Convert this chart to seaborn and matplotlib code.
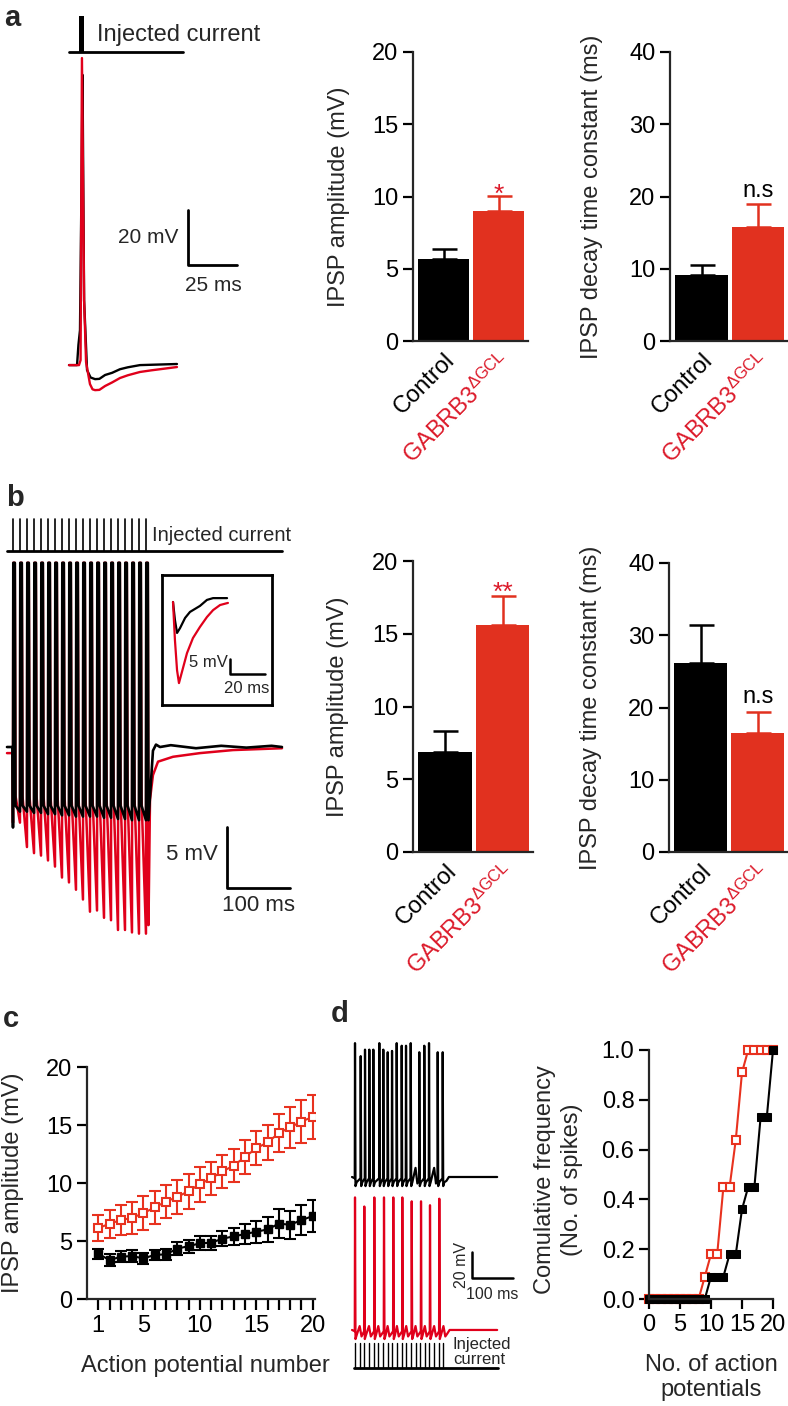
import numpy as np
import pandas as pd
import seaborn as sns
import matplotlib.pyplot as plt

# ---------------- data ----------------
groups = ["Control", "GABRB3"]
group_labels = ["Control", "GABRB3$^{ΔGCL}$"]

a_amp = [5.7, 9.0]
a_amp_sem = [0.7, 1.05]
a_tau = [9.1, 15.8]
a_tau_sem = [1.4, 3.1]
b_amp = [6.9, 15.6]
b_amp_sem = [1.4, 2.0]
b_tau = [26.1, 16.5]
b_tau_sem = [5.3, 2.9]

ap_num = [1, 2, 3, 4, 5, 6, 7, 8, 9, 10, 11, 12, 13, 14, 15, 16, 17, 18, 19, 20]
c_ko = [6.1, 6.5, 6.8, 7.0, 7.4, 7.9, 8.4, 8.8, 9.3, 9.9, 10.4, 11.0, 11.5, 12.25, 13.0, 13.5, 14.3, 14.8, 15.3, 15.7]
c_ko_sem = [1.1, 1.2, 1.3, 1.4, 1.45, 1.45, 1.45, 1.5, 1.5, 1.5, 1.45, 1.45, 1.45, 1.45, 1.45, 1.5, 1.65, 1.75, 1.85, 1.9]
c_ctrl = [3.9, 3.35, 3.65, 3.7, 3.5, 3.8, 3.85, 4.35, 4.55, 4.8, 4.85, 5.2, 5.4, 5.6, 5.8, 6.0, 6.5, 6.4, 6.8, 7.15]
c_ctrl_sem = [0.45, 0.5, 0.45, 0.5, 0.5, 0.45, 0.5, 0.55, 0.55, 0.6, 0.6, 0.65, 0.75, 0.85, 0.95, 1.1, 1.25, 1.2, 1.3, 1.35]

n_ap = [0, 1, 2, 3, 4, 5, 6, 7, 8, 9, 10, 11, 12, 13, 14, 15, 16, 17, 18, 19, 20]
d_ctrl_cum = [0, 0, 0, 0, 0, 0, 0, 0, 0, 0, 0.09, 0.09, 0.09, 0.18, 0.18, 0.36, 0.45, 0.45, 0.73, 0.73, 1.0]
d_ko_cum = [0, 0, 0, 0, 0, 0, 0, 0, 0, 0.09, 0.18, 0.18, 0.45, 0.45, 0.64, 0.91, 1.0, 1.0, 1.0, 1.0, 1.0]

# panel a traces (ms, mV)
a_t_ctrl = [0, 4.1, 4.8, 5.6, 6.4, 6.9, 7.7, 9.2, 11.0, 13.3, 15.5, 18.4, 22.0, 26.0, 30.0, 36.2, 55.1]
a_v_ctrl = [-65, -65, -57.7, -52.3, 2.3, 40.5, -41.4, -66.8, -69.5, -70.1, -70.0, -68.6, -67.8, -66.5, -65.8, -65.0, -64.6]
a_t_ko = [0, 5.1, 5.9, 6.6, 7.7, 8.7, 10.7, 12.0, 13.3, 15.5, 18.4, 22.0, 26.0, 30.0, 36.2, 42.0, 46.4, 55.1]
a_v_ko = [-65, -65, -63.2, 46.6, -41.4, -63.9, -71.9, -73.8, -74.1, -74.0, -72.6, -71.3, -69.7, -68.7, -67.5, -66.9, -66.5, -65.7]

# panel b train (ms, mV from baseline)
b_events = [9.5, 20.6, 31.7, 42.9, 54.0, 65.1, 76.2, 87.3, 98.4, 109.5,
            120.6, 131.7, 142.9, 154.0, 165.1, 176.2, 187.3, 198.4, 209.5, 220.6]
b_trough_ctrl = [-6.6, -5.3, -5.3, -5.4, -5.4, -5.5, -5.5, -5.6, -5.6, -5.7,
                 -5.7, -5.7, -5.7, -5.8, -5.8, -5.9, -5.9, -6.0, -6.0, -6.0]
b_trough_ko = [-6.2, -6.2, -8.2, -8.7, -8.9, -9.3, -9.8, -10.7, -11.1, -11.7,
               -12.5, -13.5, -13.4, -14.0, -14.2, -15.0, -15.0, -15.2, -15.3, -15.3]
b_peak = 15.1
b_tail_t_ctrl = [224.6, 231.7, 236.5, 242.9, 260, 300, 340, 380, 420, 436.5]
b_tail_v_ctrl = [-6.0, -0.3, 0.2, 0.0, 0.15, -0.1, 0.1, -0.05, 0.1, 0.0]
b_tail_t_ko = [224.6, 227.0, 231.7, 239.7, 263.5, 306.3, 358.7, 436.5]
b_tail_v_ko = [-14.6, -4.3, -2.3, -1.2, -0.8, -0.5, -0.25, -0.1]

# inset of panel b
ins_t_ctrl = [0, 1.1, 2.3, 4.0, 6.9, 9.7, 15.4, 19.4, 22.9, 30.9]
ins_v_ctrl = [0, -6.0, -10.3, -8.7, -5.3, -3.3, -1.3, 0.7, 1.3, 1.3]
ins_t_ko = [0, 1.1, 2.3, 3.4, 5.1, 8.0, 11.4, 15.4, 19.4, 22.9, 26.9, 31.4]
ins_v_ko = [0, -12.7, -22.7, -27.0, -23.3, -17.0, -12.0, -8.3, -5.0, -2.7, -1.0, -0.3]

# panel d firing (ms, mV from baseline)
d_stim = [7.3, 18.7, 30.0, 41.4, 52.7, 64.1, 75.4, 86.8, 98.1, 109.5,
          120.8, 132.2, 143.5, 154.9, 166.2, 177.6, 188.9, 200.3, 211.6, 223.0]
d_spk_ctrl = [7.3, 21.2, 31.7, 42.2, 52.0, 66.6, 76.3, 87.1, 97.6, 109.0,
              121.2, 131.7, 143.2, 164.1, 176.3, 187.8, 209.0, 221.2]
d_amp_ctrl = [103, 93, 98, 98, 98, 103, 98, 96, 97, 103, 101, 101, 103, 96, 101, 103, 96, 96]
d_sub_ctrl = [154.9, 200.3]
d_spk_ko = [7.3, 30.0, 54.4, 78.0, 100.7, 122.7, 145.6, 168.3, 190.2, 212.9]
d_amp_ko = [102, 95, 102, 102, 102, 102, 99, 99, 96, 101]
d_sub_ko = [18.7, 41.4, 64.1, 86.8, 109.5, 132.2, 154.9, 177.6, 200.3, 223.0]

# ---------------- style ----------------
BLACK = "#000000"
BAR_RED = "#e1311f"
LINE_RED = "#e8321f"
TRACE_RED = "#e0001b"
TEXT_RED = "#dc1a2a"

sns.set_style("ticks")
plt.rcParams["font.family"] = ["Liberation Sans", "DejaVu Sans"]
plt.rcParams["mathtext.default"] = "regular"
plt.rcParams["axes.linewidth"] = 1.6
FS = 17

W, H = 788, 1406
fig = plt.figure(figsize=(W / 100, H / 100), dpi=100)


def add_ax(l, t, r, b):
    return fig.add_axes([l / W, 1 - b / H, (r - l) / W, (b - t) / H])


def style_axis(ax):
    sns.despine(ax=ax)
    ax.tick_params(axis="both", direction="out", length=7, width=1.6,
                   labelsize=FS, color="black", labelcolor="black")


def bar_panel(ax, vals, sems, ymax, step, ylabel, mark, mark_color, mark_y, lab_x):
    df = pd.DataFrame({"group": groups, "val": vals})
    sns.barplot(data=df, x="group", y="val", hue="group",
                palette=[BLACK, BAR_RED], width=0.93, linewidth=0,
                saturation=1, legend=False, ax=ax)
    for i, (v, s) in enumerate(zip(vals, sems)):
        col = BLACK if i == 0 else BAR_RED
        ax.errorbar(i, v, yerr=[[0], [s]], color=col, capsize=9,
                    elinewidth=1.8, capthick=1.8, zorder=1)
    ax.set_xlim(-0.56, 1.53)
    ax.set_ylim(0, ymax)
    ax.set_yticks(range(0, ymax + 1, step))
    style_axis(ax)
    ax.tick_params(axis="x", length=0, pad=6)
    ax.set_xticks([0, 1])
    ax.set_xticklabels(group_labels, rotation=45, ha="right", va="top",
                       rotation_mode="anchor", fontsize=FS)
    ax.get_xticklabels()[1].set_color(TEXT_RED)
    ax.set_xlabel("")
    ax.set_ylabel(ylabel, fontsize=FS)
    ax.yaxis.set_label_coords(lab_x, 0.5)
    ax.text(1, mark_y, mark, ha="center", va="bottom", color=mark_color,
            fontsize=FS if mark == "n.s" else 19)


# ---------------- panel a ----------------
ax = add_ax(60, 0, 300, 405)
ax.plot(a_t_ctrl, a_v_ctrl, color=BLACK, lw=1.7)
ax.plot(a_t_ko, a_v_ko, color=TRACE_RED, lw=1.7)
ax.plot([0, 58.2], [48.8, 48.8], color=BLACK, lw=2)
ax.fill_between([5.1, 7.7], 48.8, 61.9, color=BLACK, lw=0)
ax.text(14.3, 55, "Injected current", fontsize=FS, va="center", ha="left")
ax.plot([60.7, 60.7, 85.7], [-8.6, -28.6, -28.6], color=BLACK, lw=2)
ax.text(55.6, -18.8, "20 mV", fontsize=15, ha="right", va="center")
ax.text(59.2, -35.9, "25 ms", fontsize=15, ha="left", va="center")
ax.set_xlim(-4.6, 117.9)
ax.set_ylim(-79.5, 67.7)
ax.axis("off")

ax = add_ax(413, 52, 528, 341)
bar_panel(ax, a_amp, a_amp_sem, 20, 5, "IPSP amplitude (mV)", "*", TEXT_RED, 9.3, -0.55)
ax = add_ax(670, 52, 788, 341)
bar_panel(ax, a_tau, a_tau_sem, 40, 10, "IPSP decay time constant (ms)", "n.s", BLACK, 19.3, -0.57)

# ---------------- panel b ----------------


def train(events, troughs, peak, plateau, start_v, tail_t, tail_v):
    t = [0, events[0] - 0.6]
    v = [start_v, start_v]
    for k, (e, tr) in enumerate(zip(events, troughs)):
        t += [e, e + 0.5, e + 2.9]
        v += [tr, peak, peak]
        if k < len(events) - 1:
            t.append(e + 4.0)
            v.append(plateau)
    return t + tail_t, v + tail_v


ax = add_ax(0, 505, 300, 950)
tk, vk = train(b_events, b_trough_ko, b_peak, -4.0, -0.5, b_tail_t_ko, b_tail_v_ko)
tc, vc = train(b_events, b_trough_ctrl, b_peak, -4.8, 0.0, b_tail_t_ctrl, b_tail_v_ctrl)
ax.plot(tk, vk, color=TRACE_RED, lw=1.8)
ax.plot(tc, vc, color=BLACK, lw=1.9)
for e in b_events:
    ax.plot([e, e], [16.1, 18.7], color=BLACK, lw=1.2)
ax.plot([0, 436.5], [16.1, 16.1], color=BLACK, lw=2)
ax.text(230, 17.3, "Injected current", fontsize=14.5, va="center", ha="left")
ax.plot([349, 349, 449], [-6.56, -11.56, -11.56], color=BLACK, lw=2)
ax.text(335, -8.85, "5 mV", fontsize=16, ha="right", va="center")
ax.text(399, -12.1, "100 ms", fontsize=16, ha="center", va="top")
ax.set_xlim(-11.1, 465.1)
ax.set_ylim(-16.64, 19.84)
ax.axis("off")

ax = add_ax(162, 575, 272, 705)
ax.plot(ins_t_ctrl, ins_v_ctrl, color=BLACK, lw=1.6)
ax.plot(ins_t_ko, ins_v_ko, color=TRACE_RED, lw=1.6)
ax.plot([32.6, 32.6, 52.6], [-19, -24, -24], color=BLACK, lw=1.8)
ax.text(31.4, -20, "5 mV", fontsize=12, ha="right", va="center")
ax.text(42, -28.8, "20 ms", fontsize=12, ha="center", va="center")
ax.set_xlim(-6.3, 56.6)
ax.set_ylim(-34.3, 9)
ax.set_xticks([])
ax.set_yticks([])
for sp in ax.spines.values():
    sp.set_linewidth(2)
    sp.set_color(BLACK)

ax = add_ax(413, 561, 533, 852)
bar_panel(ax, b_amp, b_amp_sem, 20, 5, "IPSP amplitude (mV)", "**", TEXT_RED, 17.0, -0.53)
ax = add_ax(669, 563, 788, 852)
bar_panel(ax, b_tau, b_tau_sem, 40, 10, "IPSP decay time constant (ms)", "n.s", BLACK, 19.9, -0.56)

# ---------------- panel c ----------------
ax = add_ax(87, 1067, 315, 1299)
sns.lineplot(x=ap_num, y=c_ko, color=LINE_RED, lw=1.5, ax=ax)
ax.errorbar(ap_num, c_ko, yerr=c_ko_sem, fmt="s", ms=5.5, mfc="white", mec=LINE_RED,
            mew=1.5, ecolor=LINE_RED, elinewidth=1.5, capsize=4, capthick=1.5)
sns.lineplot(x=ap_num, y=c_ctrl, color=BLACK, lw=1.5, ax=ax)
ax.errorbar(ap_num, c_ctrl, yerr=c_ctrl_sem, fmt="s", ms=5.5, mfc=BLACK, mec=BLACK,
            ecolor=BLACK, elinewidth=1.5, capsize=4, capthick=1.5)
ax.set_xlim(0, 20.2)
ax.set_ylim(0, 20)
ax.set_yticks([0, 5, 10, 15, 20])
ax.set_xticks(ap_num)
ax.set_xticklabels([str(n) if n in (1, 5, 10, 15, 20) else "" for n in ap_num])
style_axis(ax)
ax.tick_params(axis="x", length=8)
ax.set_ylabel("IPSP amplitude (mV)", fontsize=FS)
ax.yaxis.set_label_coords(-0.275, 0.5)
ax.set_xlabel("Action potential number", fontsize=FS)
ax.xaxis.set_label_coords(0.52, -0.24)

# ---------------- panel d traces ----------------


def firing(spk_t, spk_a, sub_t, sub_a, end_t):
    ev = sorted([(s, "spk", a) for s, a in zip(spk_t, spk_a)] +
                [(s, "sub", sub_a) for s in sub_t])
    t, v = [0], [0]
    for s, kind, a in ev:
        if kind == "spk":
            t += [s - 0.6, s, s + 1.2, s + 4.0]
            v += [-1, a, -7, -4]
        else:
            t += [s, s + 4.5]
            v += [a, -5]
    last = ev[-1][0]
    t += [last + 9, last + 15, end_t]
    v += [-3, 0, 0]
    return t, v


ax = add_ax(340, 1030, 530, 1380)
tc, vc = firing(d_spk_ctrl, d_amp_ctrl, d_sub_ctrl, 7, 354)
ax.plot(tc, vc, color=BLACK, lw=1.6)
tk, vk = firing(d_spk_ko, d_amp_ko, d_sub_ko, 3, 354)
ax.plot(tk, np.array(vk) - 117.7, color=TRACE_RED, lw=1.6)
for s in d_stim:
    ax.plot([s, s], [-127.7, -146.9], color=BLACK, lw=1.0)
ax.plot([4.9, 356], [-146.9, -146.9], color=BLACK, lw=2)
ax.text(246, -134.6, "Injected\ncurrent", fontsize=12, ha="left", va="center",
        linespacing=1.0)
ax.plot([292.7, 292.7, 392.7], [-57.7, -77.7, -77.7], color=BLACK, lw=1.8)
ax.text(268, -67.7, "20 mV", fontsize=11.5, rotation=90, ha="center", va="center")
ax.text(342, -84.5, "100 ms", fontsize=11.5, ha="center", va="top")
ax.set_xlim(-29.3, 434.1)
ax.set_ylim(-156.2, 113.1)
ax.axis("off")

# ---------------- panel d cumulative ----------------
ax = add_ax(649, 1050, 773, 1299)
ax.plot(n_ap, d_ko_cum, color=LINE_RED, lw=1.5, marker="s", ms=5.5, mfc="white",
        mec=LINE_RED, mew=1.5, clip_on=False)
sns.lineplot(x=n_ap, y=d_ctrl_cum, color=BLACK, lw=1.5, marker="s", markersize=5.5,
             markerfacecolor=BLACK, markeredgecolor=BLACK, clip_on=False, ax=ax)
ax.set_xlim(0, 20)
ax.set_ylim(0, 1)
ax.set_xticks([0, 5, 10, 15, 20])
ax.set_yticks([0, 0.2, 0.4, 0.6, 0.8, 1.0])
ax.set_yticklabels(["0.0", "0.2", "0.4", "0.6", "0.8", "1.0"])
style_axis(ax)
ax.set_ylabel("Comulative frequency\n(No. of spikes)", fontsize=FS, linespacing=1.3)
ax.yaxis.set_label_coords(-0.53, 0.48)
ax.set_xlabel("No. of action\npotentials", fontsize=FS)
ax.xaxis.set_label_coords(0.5, -0.22)

# ---------------- panel letters ----------------
for x, y, lab in [(4, 4, "a"), (6, 484, "b"), (3, 1005, "c"), (331, 1000, "d")]:
    fig.text(x / W, 1 - y / H, lab, fontsize=21, fontweight="bold", va="top", ha="left")

fig.savefig("out.png", dpi=100)
